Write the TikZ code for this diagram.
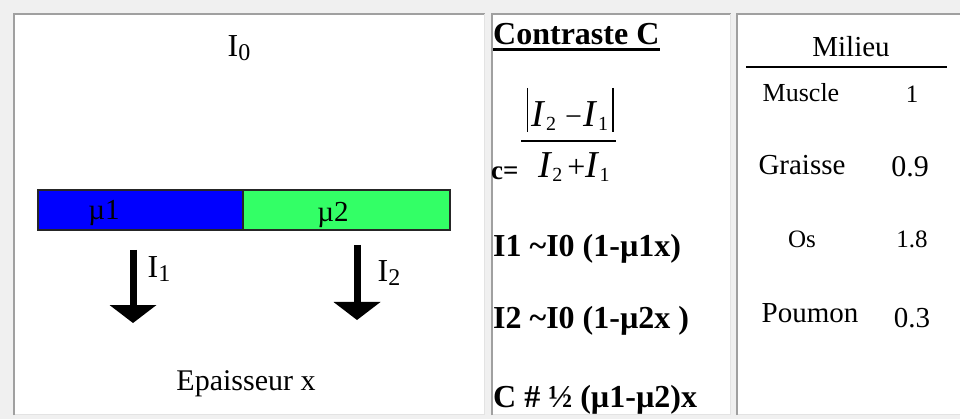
\documentclass[tikz,border=0pt]{standalone}
\usepackage{fontspec}
\setmainfont{Liberation Serif}
\usetikzlibrary{arrows.meta}
\definecolor{tablebg}{HTML}{F0F0F0}
\definecolor{cellhi}{HTML}{A0A0A0}
\definecolor{celllo}{HTML}{E3E3E3}
\definecolor{mublue}{HTML}{0000FF}
\definecolor{mugreen}{HTML}{33FF66}
\newcommand\fsz[1]{\fontsize{#1}{#1}\selectfont}
\newcommand\lowsub[2][18]{\raisebox{-4pt}{\fsz{#1}#2}}
\newcommand\cellbox[4]{%
  \fill[white] (#1,#2) rectangle (#3,#4);
  \draw[cellhi, line width=2pt] (#1+1,#4) -- (#1+1,#2+1) -- (#3,#2+1);
  \draw[celllo, line width=1.5pt] (#3-0.75,#2+1) -- (#3-0.75,#4-0.75) -- (#1+2,#4-0.75);
}
\begin{document}
\begin{tikzpicture}[x=1pt,y=-1pt,
  txt/.style={inner sep=0pt, anchor=base, text=black},
  lefttxt/.style={inner sep=0pt, anchor=base west, text=black},
  barbox/.style={draw=black!85, line width=1.3pt, minimum height=40pt, inner sep=0pt},
  bigarrow/.style={line width=7pt, -{Triangle[width=47pt,length=18pt,line width=0pt]}},
  rule/.style={line width=1.5pt}]
\useasboundingbox (0,0) rectangle (960,419);
\fill[tablebg] (0,0) rectangle (960,419);

% cells
\cellbox{13}{13}{485}{415}
\cellbox{491}{13}{731}{415}
\cellbox{736}{13}{966}{415}

% ---- cell 1 ----
\node[txt, font=\fsz{32}] (i0) at (239,57) {I\lowsub[24]{0}};
\node[barbox, fill=mublue, minimum width=205pt] (b1) at (140.5,210) {};
\node[barbox, fill=mugreen, minimum width=207pt] (b2) at (346.5,210) {};
\node[txt, font=\fsz{29}] (mu1) at (104,220) {µ1};
\node[txt, font=\fsz{29}] (mu2) at (333,222) {µ2};
\coordinate (a1s) at (133,250);
\coordinate (a1e) at (133,323);
\coordinate (a2s) at (357,245);
\coordinate (a2e) at (357,320);
\draw[bigarrow] (a1s) -- (a1e);
\draw[bigarrow] (a2s) -- (a2e);
\node[txt, font=\fsz{32}] (li1) at (159,278) {I\lowsub[24]{1}};
\node[txt, font=\fsz{32}] (li2) at (389,282) {I\lowsub[24]{2}};
\node[txt, font=\fsz{30}] (ep) at (246,390) {Epaisseur x};

% ---- cell 2 ----
\node[lefttxt, font=\bfseries\fsz{32}] (ct) at (493,45) {Contraste C};
\draw[line width=3pt] ([yshift=-5pt]ct.base west) -- ([yshift=-5pt]ct.base east);
\node[lefttxt, font=\bfseries\fsz{27}] (ceq) at (491,180) {c=};
\node[txt, font=\fsz{38}] (num) at (570,127) {\textit{I}\lowsub[20]{2}\hspace{9pt}{\fsz{30}−}\hspace{2pt}\textit{I}\lowsub[20]{1}};
\coordinate (bl1) at (527.5,88);
\coordinate (bl2) at (527.5,132);
\coordinate (br1) at (613,88);
\coordinate (br2) at (613,132);
\draw[line width=1.6pt] (bl1) -- (bl2);
\draw[line width=1.6pt] (br1) -- (br2);
\coordinate (fb1) at (521,141);
\coordinate (fb2) at (616,141);
\draw[line width=1.8pt] (fb1) -- (fb2);
\node[txt, font=\fsz{38}] (den) at (574,178) {\textit{I}\lowsub[20]{2}\hspace{5pt}{\fsz{32}+}\textit{I}\lowsub[20]{1}};
\node[lefttxt, font=\bfseries\fsz{32}] (e1) at (493,257) {I1 \textasciitilde I0 (1-µ1x)};
\node[lefttxt, font=\bfseries\fsz{32}] (e2) at (493,328) {I2 \textasciitilde I0 (1-µ2x )};
\node[lefttxt, font=\bfseries\fsz{32}] (e3) at (493,407) {C \# ½ (µ1-µ2)x};

% ---- cell 3 ----
\node[txt, font=\fsz{29}] (mil) at (851,57) {Milieu};
\coordinate (ml1) at (746,67);
\coordinate (ml2) at (947,67);
\draw[rule] (ml1) -- (ml2);
\node[txt, font=\fsz{26}] (m1) at (801,102) {Muscle};
\node[txt, font=\fsz{25}] (v1) at (912,103) {1};
\node[txt, font=\fsz{29}] (m2) at (802,175) {Graisse};
\node[txt, font=\fsz{30}] (v2) at (910,177) {0.9};
\node[txt, font=\fsz{25}] (m3) at (802,248) {Os};
\node[txt, font=\fsz{25}] (v3) at (912,248) {1.8};
\node[txt, font=\fsz{29}] (m4) at (810,322) {Poumon};
\node[txt, font=\fsz{29}] (v4) at (912,327) {0.3};
\end{tikzpicture}
\end{document}
